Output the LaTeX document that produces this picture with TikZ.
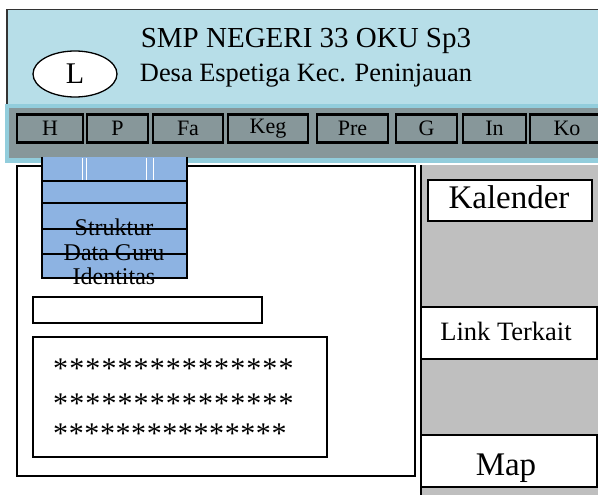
\documentclass[tikz,border=0pt]{standalone}
\usepackage{fontspec}
\setmainfont{Liberation Serif}
\usetikzlibrary{shapes.geometric}
\definecolor{hdrblue}{HTML}{B7DEE8}
\definecolor{navblue}{HTML}{92CDDC}
\definecolor{navgray}{HTML}{87979A}
\definecolor{boxblue}{HTML}{8DB3E2}
\definecolor{panelgray}{HTML}{BFBFBF}
\newcommand\fsz[1]{\fontsize{#1}{#1}\selectfont}
\newcommand\starrow[1]{\foreach \i in {1,...,15}{*\kern#1}}
\begin{document}
\begin{tikzpicture}[x=1pt,y=-1pt,
  navbtn/.style={draw=black, line width=2.2pt, minimum height=28pt, inner sep=0pt, font=\fsz{22}},
  frame/.style={draw=black, line width=1.5pt},
  sidebox/.style={frame, fill=white, inner sep=0pt},
  plain/.style={inner sep=0pt}]
\useasboundingbox (0,0) rectangle (598,495);
% header
\fill[hdrblue] (7,9) rectangle (598,105);
\draw[line width=1.2pt, black!80] (598,9.5) -- (7,9.5) -- (7,105);
\node[ellipse, draw, fill=white, line width=1.3pt, minimum width=84pt, minimum height=46pt, inner sep=0pt, font=\fsz{30}] (logo) at (75,74) {L};
\node[plain, anchor=base, font=\fsz{29}] (title) at (306,48) {SMP NEGERI 33 OKU Sp3};
\node[plain, anchor=base, font=\fsz{26.4}] (sub) at (306,82) {Desa Espetiga Kec. Peninjauan};
% navbar
\fill[navblue] (5,104) rectangle (598,163);
\fill[navgray] (9,108) rectangle (598,158);
\node[navbtn, minimum width=66pt] (bH) at (50,128.5) {H};
\node[navbtn, minimum width=61pt] (bP) at (117.5,128.5) {P};
\node[navbtn, minimum width=70pt] (bFa) at (188,128.5) {Fa};
\node[navbtn, minimum width=80pt] (bKeg) at (268,128.5) {Keg};
\node[navbtn, minimum width=71pt] (bPre) at (352.5,128.5) {Pre};
\node[navbtn, minimum width=61pt] (bG) at (426.5,128.5) {G};
\node[navbtn, minimum width=63pt] (bIn) at (494.5,128.5) {In};
\node[navbtn, minimum width=74pt] (bKo) at (567,128.5) {Ko};
% main panel
\draw[frame] (17,166) rectangle (415,476);
% right panel
\fill[panelgray] (421,165) rectangle (598,495);
\draw[frame] (421,165) -- (421,495);
\node[sidebox, minimum width=164pt, minimum height=41pt] (kal) at (510,200.5) {};
\node[plain, anchor=base, font=\fsz{33}] (kaltxt) at (509,208.5) {Kalender};
\node[sidebox, minimum width=176pt, minimum height=52pt] (link) at (509,333) {};
\node[plain, anchor=base, font=\fsz{26.5}] (linktxt) at (506,340.5) {Link Terkait};
\node[sidebox, minimum width=176pt, minimum height=52pt] (map) at (509,461) {};
\node[plain, anchor=base, font=\fsz{33}] (maptxt) at (506,475) {Map};
% blue structure box
\fill[boxblue] (42,157) rectangle (187,279);
\draw[white, line width=0.6pt] (82,158) -- (82,181) (86,158) -- (86,181) (146,158) -- (146,181) (153,158) -- (153,181);
\draw[frame] (42,157) -- (42,279) (187,157) -- (187,279);
\foreach \yy in {181,203,229,254,278} { \draw[frame] (42,\yy) -- (187,\yy); }
\node[plain, anchor=base, font=\fsz{24}] (t1) at (114,235) {Struktur};
\node[plain, anchor=base, font=\fsz{24}] (t2) at (114,260) {Data Guru};
\node[plain, anchor=base, font=\fsz{24}] (t3) at (114,284) {Identitas};
% input bar
\draw[frame] (33,297) rectangle (262,323);
% star box
\draw[frame] (33,337) rectangle (327,457);
\node[plain, anchor=base west, font=\fsz{30}] (s1) at (53,378) {\starrow{1.1pt}};
\node[plain, anchor=base west, font=\fsz{30}] (s2) at (53,413) {\starrow{1.1pt}};
\node[plain, anchor=base west, font=\fsz{30}] (s3) at (53,443) {\starrow{0.6pt}};
\end{tikzpicture}
\end{document}
